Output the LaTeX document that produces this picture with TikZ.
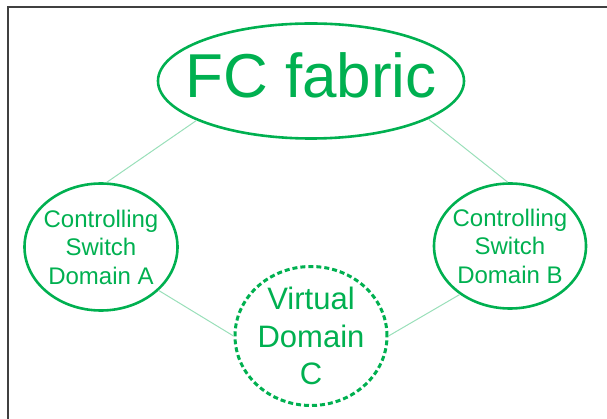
\documentclass[tikz,border=0pt]{standalone}
\usepackage{fontspec}
\setmainfont{Liberation Sans}
\usetikzlibrary{shapes.geometric}
\definecolor{fcgreen}{HTML}{00B050}

\begin{document}
\begin{tikzpicture}[
    x=1pt, y=-1pt,
    domnode/.style={
        ellipse,
        draw=fcgreen,
        line width=2.6pt,
        inner sep=0pt,
    },
    virtnode/.style={
        domnode,
        dash pattern=on 5pt off 3pt,
        line width=3pt,
    },
    domtext/.style={
        text=fcgreen,
        align=center,
        font=\fontsize{#1}{#1}\selectfont,
    },
    link/.style={
        draw=fcgreen!40,
        line width=1pt,
    },
]
\useasboundingbox (0,0) rectangle (607,419);

% === Frame ===
\draw[black!75, line width=2pt] (8,419) -- (8,7) -- (607,7);

% === Fabric ===
\node[domnode, minimum width=306pt, minimum height=115pt,
    label={[domtext=62, yshift=6pt]center:FC fabric}] (fc) at (311,81) {};

% === Controlling switches ===
\node[domnode, minimum width=153pt, minimum height=127pt,
    label={[domtext=24, font=\fontsize{24}{28.5}\selectfont]center:Controlling\\Switch\\Domain A}] (ctrlA) at (101,247) {};
\node[domnode, minimum width=152pt, minimum height=125pt,
    label={[domtext=24, font=\fontsize{24}{28.5}\selectfont]center:Controlling\\Switch\\Domain B}] (ctrlB) at (510,246) {};

% === Virtual domain ===
\node[virtnode, minimum width=152pt, minimum height=139pt,
    label={[domtext=31, font=\fontsize{31}{37.5}\selectfont]center:Virtual\\Domain\\C}] (virtC) at (311,336) {};

% === Links ===
\draw[link] (fc.-161) -- (ctrlA.85);
\draw[link] (fc.-18) -- (ctrlB.92);
\draw[link] (ctrlA.-37) -- (virtC.west);
\draw[link] (ctrlB.-136) -- (virtC.east);

\end{tikzpicture}
\end{document}
